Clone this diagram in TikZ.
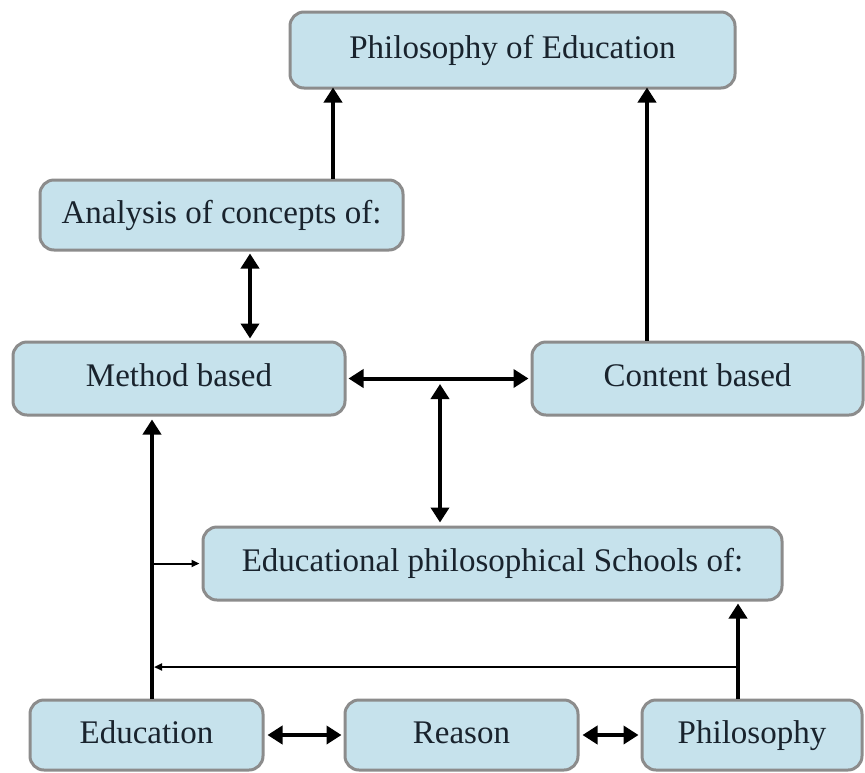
\documentclass[tikz,border=0pt]{standalone}
\usepackage{fontspec}
\setmainfont{Liberation Serif}
\usetikzlibrary{arrows.meta}
\definecolor{boxfill}{RGB}{198,226,236}
\definecolor{boxline}{RGB}{140,140,140}
\definecolor{boxtext}{RGB}{25,35,45}
\tikzset{
    topic/.style={draw=boxline, line width=3pt, fill=boxfill, rounded corners=14pt,
        text=boxtext, font=\fontsize{33}{40}\selectfont, inner sep=0pt,
        text height=23pt, text depth=7pt},
    bigarrow/.style={line width=4pt, -{Triangle[length=15pt,width=18pt]}},
    bothways/.style={line width=4pt, {Triangle[length=15pt,width=18pt]}-{Triangle[length=15pt,width=18pt]}},
    thinarrow/.style={line width=2pt, -{Triangle[length=8pt,width=7pt]}}
}
\begin{document}
\begin{tikzpicture}[x=1pt,y=-1pt]
                \useasboundingbox (0,0) rectangle (865,772);

                \coordinate (X1) at (333,0);
                \coordinate (X2) at (647,0);
                \coordinate (X3) at (250,0);
                \coordinate (X4) at (152,0);
                \coordinate (X5) at (738,0);
                \coordinate (J) at (440,379);
                \coordinate (Y1) at (0,667);

                \node[topic, minimum width=445pt, minimum height=76pt] (PE) at (512.5,50) {Philosophy of Education};
                \node[topic, minimum width=363pt, minimum height=70pt] (AC) at (221.5,215) {Analysis of concepts of:};
                \node[topic, minimum width=332pt, minimum height=73pt] (MB) at (179,378.5) {Method based};
                \node[topic, minimum width=331pt, minimum height=73pt] (CB) at (697.5,378.5) {Content based};
                \node[topic, minimum width=579pt, minimum height=73pt] (ES) at (492.5,563.5) {Educational philosophical Schools of:};
                \node[topic, minimum width=233pt, minimum height=70pt] (E) at (146.5,735) {Education};
                \node[topic, minimum width=233pt, minimum height=70pt] (R) at (461.5,735) {Reason};
                \node[topic, minimum width=220pt, minimum height=70pt] (P) at (752,735) {Philosophy};

                \draw[bigarrow] (AC.north -| X1) -- ([yshift=2pt]PE.south -| X1);
                \draw[bigarrow] (CB.north -| X2) -- ([yshift=2pt]PE.south -| X2);
                \draw[bothways] ([yshift=-2pt]AC.south -| X3) -- ([yshift=2pt]MB.north -| X3);
                \draw[bothways] ([xshift=2pt]MB.east) -- ([xshift=-2pt]CB.west);
                \draw[bothways] ([yshift=-5pt]J) -- ([yshift=3pt]ES.north -| J);
                \draw[bigarrow] (E.north -| X4) -- ([yshift=-3pt]MB.south -| X4);
                \draw[thinarrow] (ES.west -| X4) -- ([xshift=-2pt]ES.west);
                \draw[bigarrow] (P.north -| X5) -- ([yshift=-2pt]ES.south -| X5);
                \draw[thinarrow] (Y1 -| X5) -- ([xshift=2pt]Y1 -| X4);
                \draw[bothways] ([xshift=3pt]E.east) -- ([xshift=-2pt]R.west);
                \draw[bothways] ([xshift=3pt]R.east) -- ([xshift=-2pt]P.west);
            \end{tikzpicture}
\end{document}
